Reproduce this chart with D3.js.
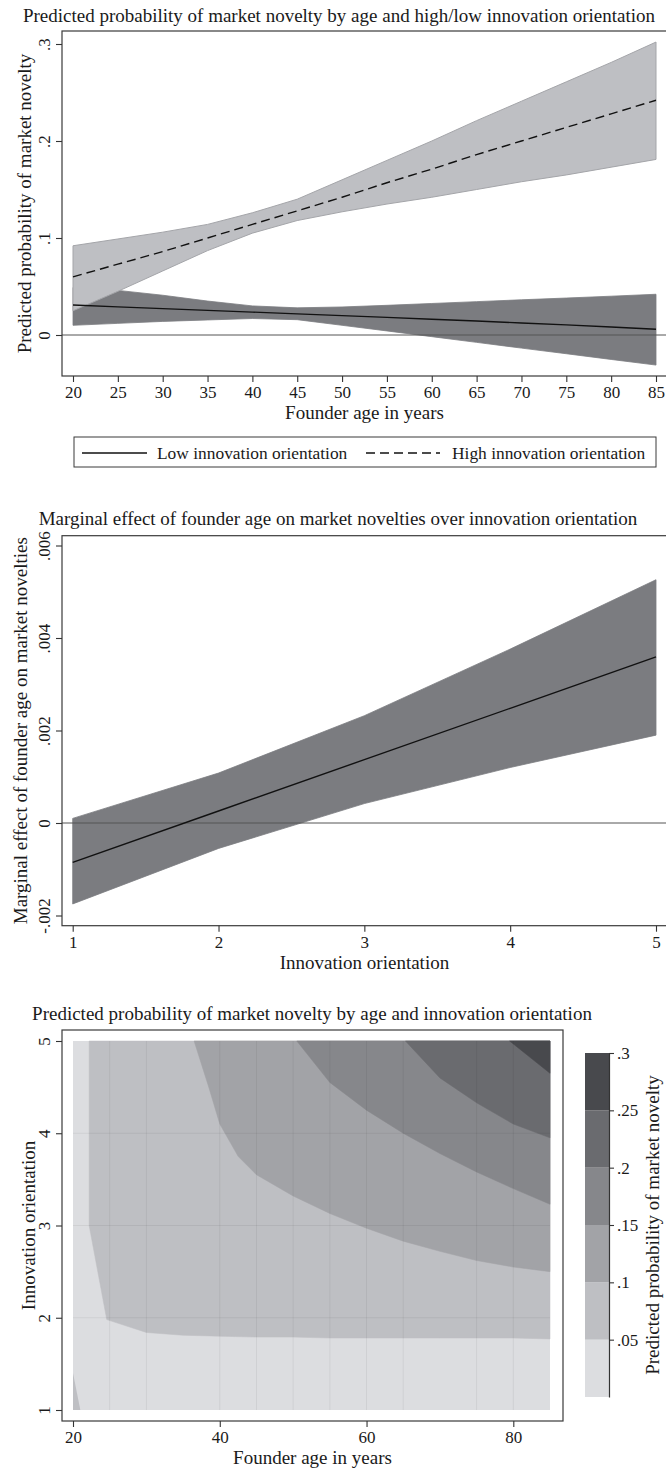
<!DOCTYPE html>
<html>
<head>
<style>
    body { margin: 0; background: #fff; }
    svg { display: block; font-family: "Liberation Serif", "Times New Roman", serif; }
    .title { font-size: 19px; fill: #1a1a1a; }
    .axis-title { font-size: 19px; fill: #1a1a1a; }
    .axis text { font-size: 17px; fill: #1a1a1a; font-family: "Liberation Serif", serif; }
    .axis line { stroke: #333; stroke-width: 1.1px; }
    .axis path { stroke: #333; stroke-width: 1.2px; }
    .legend-text { font-size: 17.4px; fill: #1a1a1a; }
</style>
<script src="https://cdn.jsdelivr.net/npm/d3@7/dist/d3.min.js"></script>
</head>
<body>
<svg width="666" height="1470"></svg>
<script>
    // ---- panel 1: predicted probability by age, low/high innovation orientation
    var ages = [20, 25, 30, 35, 40, 45, 50, 55, 60, 65, 70, 75, 80, 85];
    var lowFit   = [.031, .029, .0272, .0254, .0236, .0218, .0200, .0182, .0163, .0144, .0124, .0104, .0083, .0060];
    var lowUpper = [.049, .046, .041, .035, .030, .028, .0289, .0306, .0325, .0344, .0363, .0381, .0400, .042];
    var lowLower = [.010, .012, .014, .0155, .017, .0158, .0100, .0042, -.0017, -.0076, -.0135, -.0193, -.0252, -.031];
    var highFit   = [.060, .073, .086, .100, .114, .128, .142, .157, .171, .186, .200, .214, .228, .242];
    var highUpper = [.092, .099, .106, .114, .126, .140, .160, .180, .200, .221, .241, .261, .281, .302];
    var highLower = [.025, .045, .066, .087, .105, .118, .127, .135, .142, .150, .158, .165, .173, .181];
    var ageTicks = [20, 25, 30, 35, 40, 45, 50, 55, 60, 65, 70, 75, 80, 85];
    var probTicks = [0, .1, .2, .3];
    var probLabels = ["0", ".1", ".2", ".3"];

    // ---- panel 2: marginal effect of age over innovation orientation
    var orient = [1, 2, 3, 4, 5];
    var margEff   = [-.00085, .00026, .00137, .00248, .00359];
    var margUpper = [.0001, .00108, .00232, .00376, .00526];
    var margLower = [-.00175, -.00055, .00042, .00120, .00190];
    var meTicks = [-.002, 0, .002, .004, .006];
    var meLabels = ["-.002", "0", ".002", ".004", ".006"];

    // ---- panel 3: contour of predicted probability (age x innovation orientation)
    var levels = [0, .05, .1, .15, .2, .25, .3];
    var levelLabels = ["", ".05", ".1", ".15", ".2", ".25", ".3"];
    var levelColors = ["#dcdde0", "#bebfc3", "#a2a3a7", "#86878b", "#6a6b6f", "#48494d"];
    // level boundaries as [age, innovation orientation]
    var edge05 = [[22.2, 5], [22.2, 3], [24.6, 1.98], [30, 1.84], [35, 1.81], [40, 1.80], [45, 1.79], [50, 1.79],
                  [55, 1.78], [60, 1.78], [65, 1.78], [70, 1.78], [75, 1.78], [80, 1.78], [85, 1.77]];
    var corner05 = [[20, 1], [20, 1.4], [21, 1]];
    var edge10 = [[36.5, 5], [38.5, 4.5], [40, 4.1], [42.5, 3.75], [45, 3.55], [50, 3.32], [55, 3.13], [60, 2.97],
                  [65, 2.83], [70, 2.72], [75, 2.62], [80, 2.55], [85, 2.50]];
    var edge15 = [[50.5, 5], [55, 4.55], [60, 4.25], [65, 4.0], [70, 3.78], [75, 3.58], [80, 3.40], [85, 3.23]];
    var edge20 = [[65.3, 5], [70, 4.6], [75, 4.33], [80, 4.1], [85, 3.95]];
    var edge25 = [[79.5, 5], [85, 4.65]];
    var seamAges = [25, 30, 40, 45, 50, 55, 60, 65, 75, 80];
    var seamOrient = [2, 3, 4];
    var ageTicks3 = [20, 40, 60, 80];

    var svg = d3.select('svg');

    function yTitle(x, y, txt) {
        svg.append('text').attr('class', 'axis-title')
            .attr('transform', 'translate(' + x + ',' + y + ') rotate(-90)')
            .attr('text-anchor', 'middle').text(txt);
    }
    function title(x, y, txt, cls) {
        svg.append('text').attr('class', cls || 'title')
            .attr('x', x).attr('y', y).attr('text-anchor', 'middle').text(txt);
    }
    function leftAxis(scale, ticks, labels, x) {
        var g = svg.append('g').attr('class', 'axis').attr('transform', 'translate(' + x + ',0)')
            .call(d3.axisLeft(scale).tickValues(ticks).tickSize(6).tickSizeOuter(0)
                .tickFormat(function (d, i) { return labels[i]; }));
        g.select('.domain').remove();
        g.selectAll('text').attr('transform', 'rotate(-90)')
            .attr('x', 0).attr('y', -12).attr('dy', 0).attr('text-anchor', 'middle');
        return g;
    }
    function bottomAxis(scale, ticks, y) {
        var g = svg.append('g').attr('class', 'axis').attr('transform', 'translate(0,' + y + ')')
            .call(d3.axisBottom(scale).tickValues(ticks).tickSize(6).tickSizeOuter(0).tickPadding(4)
                .tickFormat(d3.format('d')));
        g.select('.domain').remove();
        return g;
    }
    function frame(x0, y0, x1, y1) {
        svg.append('rect').attr('x', x0).attr('y', y0).attr('width', x1 - x0).attr('height', y1 - y0)
            .attr('fill', 'none').attr('stroke', '#3a3a3a').attr('stroke-width', 1.2);
    }

    // =========== PANEL 1 ===========
    var x1 = d3.scaleLinear().domain([20, 85]).range([73, 656]);
    var y1 = d3.scaleLinear().domain([0, .3]).range([335, 44]);

    title(339, 22, 'Predicted probability of market novelty by age and high/low innovation orientation');

    var band1 = d3.area().x(function (d) { return x1(d.x); })
        .y0(function (d) { return y1(d.lo); }).y1(function (d) { return y1(d.hi); });
    var lowData = ages.map(function (a, i) { return { x: a, lo: lowLower[i], hi: lowUpper[i], fit: lowFit[i] }; });
    var highData = ages.map(function (a, i) { return { x: a, lo: highLower[i], hi: highUpper[i], fit: highFit[i] }; });

    svg.append('path').datum(lowData).attr('d', band1).attr('fill', '#7b7c80').attr('stroke', '#7b7c80').attr('stroke-width', 0.8);
    svg.append('path').datum(highData).attr('d', band1).attr('fill', '#bebfc3').attr('stroke', '#a4a5a9').attr('stroke-width', 1);

    svg.append('line').attr('x1', 62).attr('x2', 670).attr('y1', y1(0)).attr('y2', y1(0))
        .attr('stroke', '#555').attr('stroke-width', 1);

    var fit1 = d3.line().x(function (d) { return x1(d.x); }).y(function (d) { return y1(d.fit); });
    svg.append('path').datum(lowData).attr('d', fit1).attr('fill', 'none').attr('stroke', '#111').attr('stroke-width', 1.4);
    svg.append('path').datum(highData).attr('d', fit1).attr('fill', 'none').attr('stroke', '#111')
        .attr('stroke-width', 1.4).attr('stroke-dasharray', '9,5');

    frame(62, 31, 680, 376);
    leftAxis(y1, probTicks, probLabels, 62);
    bottomAxis(x1, ageTicks, 376);
    yTitle(31, 203.5, 'Predicted probability of market novelty');
    title(364.5, 419, 'Founder age in years', 'axis-title');

    // legend
    svg.append('rect').attr('x', 74).attr('y', 437).attr('width', 582).attr('height', 30)
        .attr('fill', '#fff').attr('stroke', '#3a3a3a').attr('stroke-width', 1);
    svg.append('line').attr('x1', 82).attr('x2', 147).attr('y1', 453).attr('y2', 453)
        .attr('stroke', '#111').attr('stroke-width', 1.4);
    svg.append('text').attr('class', 'legend-text').attr('x', 157).attr('y', 458.5).text('Low innovation orientation');
    svg.append('line').attr('x1', 366).attr('x2', 440).attr('y1', 453).attr('y2', 453)
        .attr('stroke', '#111').attr('stroke-width', 1.4).attr('stroke-dasharray', '9,5');
    svg.append('text').attr('class', 'legend-text').attr('x', 452).attr('y', 458.5).text('High innovation orientation');

    // =========== PANEL 2 ===========
    var x2 = d3.scaleLinear().domain([1, 5]).range([72.7, 656]);
    var y2 = d3.scaleLinear().domain([-.002, .006]).range([915.5, 545.5]);

    title(338, 525, 'Marginal effect of founder age on market novelties over innovation orientation');

    var meData = orient.map(function (o, i) { return { x: o, lo: margLower[i], hi: margUpper[i], fit: margEff[i] }; });
    var band2 = d3.area().x(function (d) { return x2(d.x); })
        .y0(function (d) { return y2(d.lo); }).y1(function (d) { return y2(d.hi); });
    svg.append('path').datum(meData).attr('d', band2).attr('fill', '#7b7c80').attr('stroke', '#7b7c80').attr('stroke-width', 0.8);
    svg.append('line').attr('x1', 62).attr('x2', 670).attr('y1', y2(0)).attr('y2', y2(0))
        .attr('stroke', '#555').attr('stroke-width', 1);
    svg.append('path').datum(meData)
        .attr('d', d3.line().x(function (d) { return x2(d.x); }).y(function (d) { return y2(d.fit); }))
        .attr('fill', 'none').attr('stroke', '#111').attr('stroke-width', 1.4);

    frame(62, 535.7, 680, 925.7);
    leftAxis(y2, meTicks, meLabels, 62);
    bottomAxis(x2, orient, 925.7);
    yTitle(27, 730.7, 'Marginal effect of founder age on market novelties');
    title(364.5, 969, 'Innovation orientation', 'axis-title');

    // =========== PANEL 3 ===========
    var x3 = d3.scaleLinear().domain([20, 85]).range([73, 550]);
    var y3 = d3.scaleLinear().domain([1, 5]).range([1410, 1041]);
    var c3 = d3.scaleLinear().domain([0, .3]).range([1397, 1053]);

    title(312, 1020, 'Predicted probability of market novelty by age and innovation orientation');

    frame(62, 1030, 563, 1421);

    var poly = d3.line().x(function (d) { return x3(d[0]); }).y(function (d) { return y3(d[1]); });
    var plot3 = svg.append('g');
    plot3.append('rect').attr('x', x3(20)).attr('y', y3(5))
        .attr('width', x3(85) - x3(20)).attr('height', y3(1) - y3(5)).attr('fill', levelColors[0]);

    var edges = [edge05, edge10, edge15, edge20, edge25];
    edges.forEach(function (edge, i) {
        var pts = edge.concat([[85, 5]]);
        plot3.append('path').attr('d', poly(pts) + 'Z')
            .attr('fill', levelColors[i + 1]).attr('stroke', levelColors[i + 1]).attr('stroke-width', 0.5);
    });
    plot3.append('path').attr('d', poly(corner05) + 'Z').attr('fill', levelColors[1]);

    // faint tile seams of the original rendering
    plot3.selectAll('.seam-v').data(seamAges).enter().append('line')
        .attr('x1', function (d) { return x3(d); }).attr('x2', function (d) { return x3(d); })
        .attr('y1', y3(5)).attr('y2', y3(1))
        .attr('stroke', '#000').attr('stroke-opacity', 0.06).attr('stroke-width', 1);
    plot3.selectAll('.seam-h').data(seamOrient).enter().append('line')
        .attr('x1', x3(20)).attr('x2', x3(85))
        .attr('y1', function (d) { return y3(d); }).attr('y2', function (d) { return y3(d); })
        .attr('stroke', '#000').attr('stroke-opacity', 0.06).attr('stroke-width', 1);

    leftAxis(y3, orient, orient.map(String), 62);
    bottomAxis(x3, ageTicks3, 1421);
    yTitle(35, 1225.5, 'Innovation orientation');
    title(312.5, 1464, 'Founder age in years', 'axis-title');

    // colour legend
    var bands = levelColors.map(function (c, i) { return { lo: levels[i], hi: levels[i + 1], color: c }; });
    svg.selectAll('.cbar').data(bands).enter().append('rect')
        .attr('x', 585).attr('width', 24)
        .attr('y', function (d) { return c3(d.hi); })
        .attr('height', function (d) { return c3(d.lo) - c3(d.hi); })
        .attr('fill', function (d) { return d.color; });
    var cax = svg.append('g').attr('class', 'axis').attr('transform', 'translate(609,0)')
        .call(d3.axisRight(c3).tickValues(levels.slice(1)).tickSize(5).tickSizeOuter(0).tickPadding(3)
            .tickFormat(function (d, i) { return levelLabels[i + 1]; }));
    yTitle(659, 1225, 'Predicted probability of market novelty');
</script>
</body>
</html>
